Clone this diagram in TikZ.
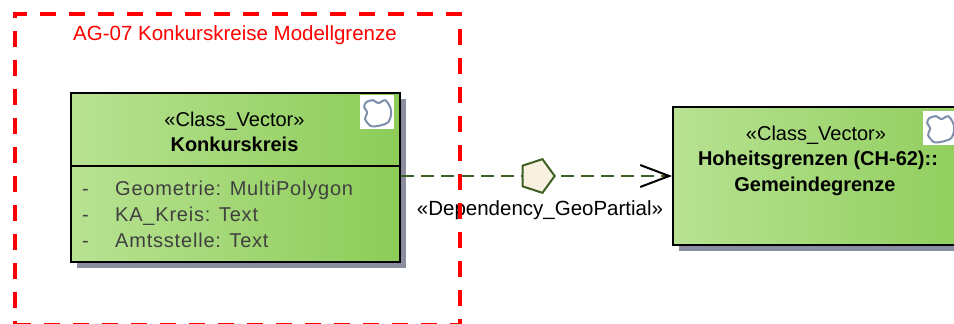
\documentclass[tikz,border=0pt]{standalone}
\usepackage{fontspec}
\setmainfont{Liberation Sans}
\newfontfamily\attrfont[LetterSpace=4]{Liberation Sans}
\usetikzlibrary{shapes.geometric,arrows.meta,shadows}
\definecolor{boxlight}{RGB}{184,226,146}
\definecolor{boxdark}{RGB}{140,204,88}
\definecolor{shadowgray}{RGB}{138,142,158}
\definecolor{linkgreen}{RGB}{62,96,36}
\definecolor{pentfill}{RGB}{250,240,225}
\definecolor{cloudblue}{RGB}{125,143,172}
\definecolor{attrgray}{RGB}{64,64,64}
\begin{document}
\begin{tikzpicture}[x=1pt,y=-1pt,
  classbox/.style={draw=black, line width=2pt, left color=boxlight, right color=boxdark,
    inner sep=0pt, anchor=north west,
    drop shadow={shadow xshift=6pt, shadow yshift=-6pt, opacity=1, fill=shadowgray}},
  txt/.style={inner sep=0pt, anchor=base, font=\fontsize{20}{24}\selectfont},
  btxt/.style={txt, font=\fontsize{20}{24}\selectfont\bfseries},
  attr/.style={inner sep=0pt, anchor=base west, text=attrgray, font=\fontsize{20}{24}\selectfont\attrfont},
  iconbox/.style={fill=white, inner sep=0pt, minimum size=34pt, anchor=north west},
  cloud/.style={draw=cloudblue, line width=2pt},
  linkline/.style={draw=linkgreen, line width=2pt, dash pattern=on 13pt off 7pt},
  group/.style={draw=red, line width=4pt, dash pattern=on 16pt off 13pt, inner sep=0pt, anchor=north west}
]
\useasboundingbox (0,0) rectangle (954,324);
\clip (0,0) rectangle (954,324);

% left class
\node[classbox, minimum width=329pt, minimum height=169pt] (kk) at (70,92) {};
\coordinate (divy) at (0,166);
\draw[line width=2pt] (kk.west |- divy) -- (kk.east |- divy);
\node[iconbox] (ic1) at (360,95) {};
\draw[cloud, shift={(ic1.center)}] plot[smooth cycle] coordinates
  {(-11,-10) (-4,-12) (1,-9) (8,-12) (13,-5) (14,2) (11,10) (4,13) (-6,14) (-12,7) (-10,0) (-13,-5)};
\node[txt] (kkst) at (234.5,126) {«Class\_Vector»};
\node[btxt] (kkname) at (234.5,151) {Konkurskreis};
\node[attr] (d1) at (82,195) {-};
\node[attr] (a1) at (115,195) {Geometrie: MultiPolygon};
\node[attr] (d2) at (82,221) {-};
\node[attr] (a2) at (115,221) {KA\_Kreis: Text};
\node[attr] (d3) at (82,247) {-};
\node[attr] (a3) at (115,247) {Amtsstelle: Text};

% right class
\node[classbox, minimum width=320pt, minimum height=138pt] (hg) at (672,106) {};
\node[iconbox] (ic2) at (923,111) {};
\draw[cloud, shift={(ic2.center)}] plot[smooth cycle] coordinates
  {(-11,-10) (-4,-12) (1,-9) (8,-12) (13,-5) (14,2) (11,10) (4,13) (-6,14) (-12,7) (-10,0) (-13,-5)};
\node[txt] (hgst) at (816,140) {«Class\_Vector»};
\node[btxt] (hgn1) at (818,165) {Hoheitsgrenzen (CH-62)::};
\node[btxt] (hgn2) at (815,191) {Gemeindegrenze};

% dependency
\coordinate (linky) at (0,176);
\draw[linkline, -{Straight Barb[length=29pt,width=22pt,color=black]}] (kk.east |- linky) -- (hg.west |- linky);
\node[regular polygon, regular polygon sides=5, regular polygon rotate=-90, minimum size=35.4pt,
  inner sep=0pt, draw=linkgreen, fill=pentfill, line width=2pt] (pg) at (537,176) {};
\node[txt, font=\fontsize{20.5}{24}\selectfont] (deplbl) at (540,215) {«Dependency\_GeoPartial»};

% group boundary
\node[group, minimum width=445pt, minimum height=311pt] (grp) at (13,12) {};
\node[txt, text=red, font=\fontsize{20.5}{24}\selectfont] (grptitle) at (235,40) {AG-07 Konkurskreise Modellgrenze};
\end{tikzpicture}
\end{document}
